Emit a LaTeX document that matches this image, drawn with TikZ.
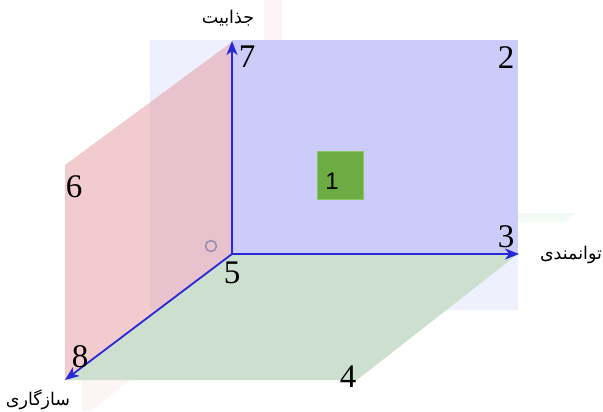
\documentclass[tikz,border=0pt]{standalone}
\usepackage{fontspec}
\setmainfont{Liberation Serif}
\newfontfamily\arabicfont[Script=Arabic]{DejaVu Sans}
\newfontfamily\sansfont{Liberation Sans}
\TeXXeTstate=1
\usetikzlibrary{arrows.meta}
\definecolor{axisblue}{RGB}{40,40,215}
\definecolor{planeblue}{RGB}{204,204,250}
\definecolor{paleblue}{RGB}{238,240,253}
\definecolor{planered}{RGB}{224,127,133}
\definecolor{planegreen}{RGB}{205,224,208}
\definecolor{boxgreen}{RGB}{108,172,66}
\definecolor{boxedge}{RGB}{140,195,100}
\definecolor{circgray}{RGB}{150,140,175}
\definecolor{faintred}{RGB}{253,245,245}
\definecolor{faintgreen}{RGB}{243,250,243}
\tikzset{
  axis/.style={draw=axisblue, line width=1.8pt, -{Stealth[length=14pt,width=11pt,inset=4pt]}},
  numlab/.style={font=\fontsize{33}{33}\selectfont, inner sep=0pt},
  fatext/.style={font=\arabicfont\fontsize{17.5}{18}\selectfont, inner sep=0pt},
}
\begin{document}
\begin{tikzpicture}[x=1pt,y=-1pt]
\useasboundingbox (0,0) rectangle (603,412);
\fill[white] (0,0) rectangle (603,412);
% faint artifacts
\fill[faintred] (264,0) rectangle (282,40);
\fill[faintgreen] (492,213) -- (575,213) -- (565,222) -- (492,222) -- cycle;
\fill[faintred] (82,380) -- (130,380) -- (92,410) -- (82,410) -- cycle;
% planes
\fill[paleblue] (150,40) rectangle (518,310);
\fill[planeblue] (232,40) rectangle (518,254);
\fill[planered, opacity=0.4] (232,42) -- (65,165) -- (65,380) -- (232,254) -- cycle;
\fill[planegreen] (232,254) -- (518,254) -- (357,380) -- (66,380) -- cycle;
% origin and axes
\coordinate (O) at (232,254);
\coordinate (T) at (232,41);
\coordinate (R) at (519,254);
\coordinate (D) at (65,380);
\draw[axis] (O) -- (T);
\draw[axis] (O) -- (R);
\draw[axis] (O) -- (D);
\node[draw=circgray, line width=1.5pt, circle, minimum size=11pt, inner sep=0pt] (circ) at (211,246) {};
% green box
\node[draw=boxedge, fill=boxgreen, line width=1pt, minimum width=46pt, minimum height=48pt, inner sep=0pt] (box) at (340,175) {};
\node[font=\sansfont\fontsize{24}{24}\selectfont, inner sep=0pt] (one) at (332,181) {1};
% numbers
\node[numlab] (n7) at (247,57) {7};
\node[numlab] (n2) at (506,58) {2};
\node[numlab] (n6) at (74,187) {6};
\node[numlab] (n3) at (506,237) {3};
\node[numlab] (n5) at (232,273) {5};
\node[numlab] (n8) at (80,357) {8};
\node[numlab] (n4) at (348,377) {4};
% persian labels
\node[fatext] (lt) at (228,18) {\beginR جذابیت\endR};
\node[fatext] (lr) at (571,255) {\beginR توانمندی\endR};
\node[fatext, anchor=south] (ld) at (38,410) {\beginR سازگاری\endR};
\end{tikzpicture}
\end{document}
